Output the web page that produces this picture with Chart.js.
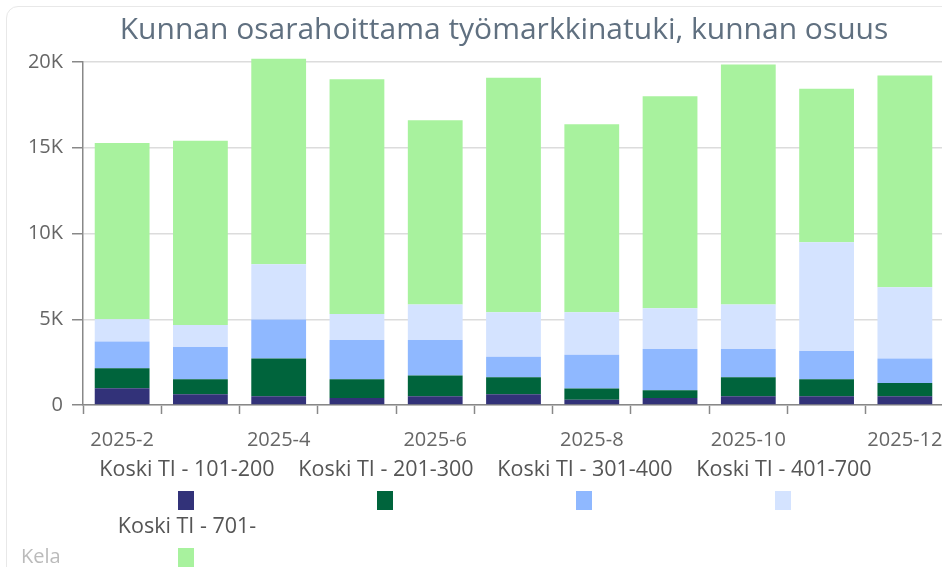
<!DOCTYPE html>
<html>
<head>
<meta charset="utf-8">
<script src="https://cdn.jsdelivr.net/npm/chart.js@4/dist/chart.umd.min.js"></script>
<style>
    html, body { margin: 0; padding: 0; background: #fff; overflow: hidden; }
    body { width: 942px; height: 567px; position: relative; }
    .card {
        position: absolute; left: 6px; top: 6px; width: 1040px; height: 600px;
        border: 1px solid #e8e8e8; border-radius: 12px; box-sizing: border-box;
    }
    #wrap { position: absolute; left: 0; top: 0; width: 988px; height: 567px; }
</style>
</head>
<body>
<div class="card"></div>
<div id="wrap"><canvas id="chart" width="988" height="567"></canvas></div>
<script>
const months = ["2025-2", "2025-3", "2025-4", "2025-5", "2025-6", "2025-7", "2025-8", "2025-9", "2025-10", "2025-11", "2025-12"];

const tier101 = [980, 630, 510, 410, 510, 630, 310, 410, 510, 510, 510];
const tier201 = [1170, 870, 2200, 1090, 1210, 990, 650, 450, 1110, 990, 780];
const tier301 = [1550, 1880, 2270, 2290, 2070, 1190, 1970, 2400, 1640, 1650, 1420];
const tier401 = [1300, 1290, 3220, 1520, 2070, 2600, 2480, 2380, 2600, 6340, 4160];
const tier701 = [10270, 10740, 11990, 13680, 10740, 13670, 10960, 12370, 14000, 8950, 12350];

const seriesNames = ["Koski TI - 101-200", "Koski TI - 201-300", "Koski TI - 301-400", "Koski TI - 401-700", "Koski TI - 701-"];
const seriesColors = ["#323279", "#00643c", "#8fb8ff", "#d4e3ff", "#a8f29e"];
const yTicks = [0, 5000, 10000, 15000, 20000];

const FONT = "'Open Sans', 'Noto Sans', sans-serif";

// legend with the label above its colour box, plus the source credit
const bottomLegend = {
    id: "bottomLegend",
    afterDraw(chart) {
        const ctx = chart.ctx;
        ctx.save();
        ctx.font = "21.5px " + FONT;
        ctx.textAlign = "center";
        ctx.textBaseline = "middle";
        chart.data.datasets.forEach((ds, i) => {
            const col = i % 4;
            const row = Math.floor(i / 4);
            const cx = 187 + col * 199;
            const ty = 470 + row * 57;
            ctx.fillStyle = "#555";
            ctx.fillText(ds.label, cx, ty);
            ctx.fillStyle = ds.backgroundColor;
            ctx.fillRect(cx - 9, ty + 21, 16, 19);
        });
        ctx.textAlign = "left";
        ctx.fillStyle = "#bbb";
        ctx.font = "20px " + FONT;
        ctx.fillText("Kela", 21, 557);
        ctx.restore();
    },
};

const series = [tier101, tier201, tier301, tier401, tier701];

new Chart(document.getElementById("chart").getContext("2d"), {
    type: "bar",
    data: {
        labels: months,
        datasets: series.map((values, i) => ({
            label: seriesNames[i],
            data: values,
            backgroundColor: seriesColors[i],
            borderWidth: 0,
            barPercentage: 0.7,
            categoryPercentage: 1.0,
            clip: false,
        })),
    },
    options: {
        responsive: false,
        animation: false,
        layout: {
            padding: { left: 20, right: 0, top: 0, bottom: 112 },
        },
        scales: {
            x: {
                stacked: true,
                offset: true,
                border: { color: "#888", width: 1.5 },
                grid: {
                    display: true,
                    drawOnChartArea: false,
                    offset: true,
                    tickLength: 9,
                    tickColor: "#888",
                    tickWidth: 1.5,
                },
                ticks: {
                    autoSkip: false,
                    maxRotation: 0,
                    padding: 14,
                    color: "#666",
                    font: { family: FONT, size: 20 },
                    callback(value, index) {
                        return index % 2 === 0 ? this.getLabelForValue(value) : "";
                    },
                },
                afterFit(scale) {
                    scale.height = 50;
                },
            },
            y: {
                stacked: true,
                min: 0,
                max: 20000,
                border: { color: "#888", width: 1.5 },
                grid: {
                    color: "#dcdcdc",
                    lineWidth: 1.5,
                    tickLength: 11,
                    tickColor: "#888",
                },
                afterBuildTicks(scale) {
                    scale.ticks = yTicks.map((v) => ({ value: v }));
                },
                ticks: {
                    padding: 9,
                    color: "#666",
                    font: { family: FONT, size: 20 },
                    callback(value) {
                        return value === 0 ? "0" : value / 1000 + "K";
                    },
                },
                afterFit(scale) {
                    scale.width = 63;
                },
            },
            // empty right-hand strip, keeps the title centred on the card
            spacer: {
                type: "linear",
                position: "right",
                display: true,
                border: { display: false },
                grid: { display: false },
                ticks: { display: false },
                afterFit(scale) {
                    scale.width = 44;
                },
            },
        },
        plugins: {
            legend: { display: false },
            tooltip: { enabled: false },
            title: {
                display: true,
                text: "Kunnan osarahoittama työmarkkinatuki, kunnan osuus",
                color: "#607080",
                font: { family: FONT, size: 30, weight: "normal" },
                padding: { top: 12, bottom: 14 },
            },
        },
    },
    plugins: [bottomLegend],
});
</script>
</body>
</html>
